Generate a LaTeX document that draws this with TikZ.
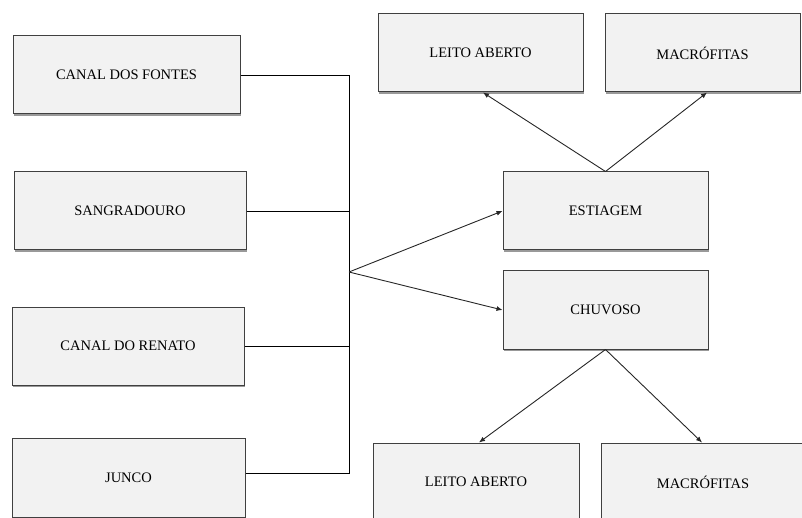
\documentclass[tikz,border=0pt]{standalone}
\usepackage{fontspec}
\setmainfont{Liberation Serif}
\newfontfamily\boxfont{Liberation Serif}
\usetikzlibrary{arrows.meta,shadows}
\begin{document}
\begin{tikzpicture}[x=1pt,y=-1pt,
  box/.style={draw=black!75, line width=1pt, fill=black!5, inner sep=0pt,
    minimum height=78pt, font=\boxfont\fontsize{14.5}{17}\selectfont,
    drop shadow={shadow xshift=1pt, shadow yshift=-2pt, fill=black, opacity=0.4}},
  link/.style={draw=black, line width=0.9pt},
  arr/.style={draw=black!85, line width=0.9pt, -{Latex[length=6pt,width=5pt]}}]
\useasboundingbox (0,0) rectangle (802,518);
\clip (0,0) rectangle (802,518);
% left boxes
\node[box, minimum width=227pt] (cdf) at (126.5,75) {CANAL DOS FONTES};
\node[box, minimum width=232pt] (san) at (130,211) {SANGRADOURO};
\node[box, minimum width=232pt] (ren) at (128,346) {CANAL DO RENATO};
\node[box, minimum width=233pt, minimum height=79pt] (jun) at (128.5,477.5) {JUNCO};
% middle
\node[box, minimum width=205pt] (est) at (605.5,211) {ESTIAGEM};
\node[box, minimum width=205pt] (chu) at (605.5,310) {CHUVOSO};
% top
\node[box, minimum width=205pt] (lt) at (480.5,53) {LEITO ABERTO};
\node[box, minimum width=195pt] (mt) at (702.5,53) {MACRÓFITAS};
% bottom
\node[box, minimum width=206pt] (lb) at (476,482) {LEITO ABERTO};
\node[box, minimum width=204pt] (mb) at (703,482) {MACRÓFITAS};
% hub
\coordinate (hub) at (349,272);
\coordinate (jend) at ([yshift=4.5pt]jun.east);
\draw[link] (cdf.east) -- (cdf.east -| hub) -- (jend -| hub) -- (jend);
\draw[link] (san.east) -- (san.east -| hub);
\draw[link] (ren.east) -- (ren.east -| hub);
\draw[arr] (hub) -- (est.west);
\draw[arr] (hub) -- (chu.west);
\draw[arr] (est.north) -- ([xshift=2.5pt]lt.south);
\draw[arr] (est.north) -- ([xshift=4.5pt]mt.south);
\draw[arr] (chu.south) -- ([xshift=3pt]lb.north);
\draw[arr] (chu.south) -- ([xshift=-1pt]mb.north);
\end{tikzpicture}
\end{document}
